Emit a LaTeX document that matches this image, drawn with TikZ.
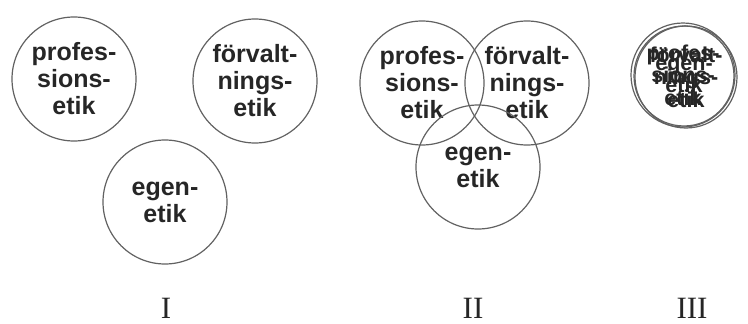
\documentclass[tikz,border=0pt]{standalone}
\usepackage{fontspec}
\setmainfont{Liberation Serif}
\newfontfamily\labelsans{Liberation Sans}
\begin{document}
\begin{tikzpicture}[x=1pt,y=-1pt,
  ring/.style={circle,draw=black!62,line width=1.2pt,inner sep=0pt,
    text=black!85,align=center},
  big/.style={ring,minimum size=124pt,font=\labelsans\bfseries\fontsize{25}{27}\selectfont},
  small/.style={ring,minimum size=102pt,font=\labelsans\bfseries\fontsize{21.5}{22.5}\selectfont},
  numeral/.style={anchor=base,font=\fontsize{31}{33}\selectfont,text=black!85,inner sep=0pt}]
\useasboundingbox (0,0) rectangle (748,324);
% Panel I
\node[big] (pI) at (74,79) {profes-\\sions-\\etik};
\node[big] (fI) at (255,81) {förvalt-\\nings-\\etik};
\node[big] (eI) at (165,202) {egen-\\etik};
% Panel II
\node[big] (pII) at (422,83) {profes-\\sions-\\etik};
\node[big] (fII) at (527,83) {förvalt-\\nings-\\etik};
\node[big] (eII) at (478,167) {egen-\\etik};
% Panel III
\node[small,minimum size=104pt] (pIII) at (683,75) {profes-\\sions-\\etik};
\node[small] (fIII) at (686,77) {förvalt-\\nings-\\etik};
\node[small,minimum size=100pt] (eIII) at (684,76) {egen-\\etik};
% labels
\node[numeral] (lI) at (166,318) {I};
\node[numeral] (lII) at (473,318) {II};
\node[numeral] (lIII) at (692,318) {III};
\end{tikzpicture}
\end{document}
